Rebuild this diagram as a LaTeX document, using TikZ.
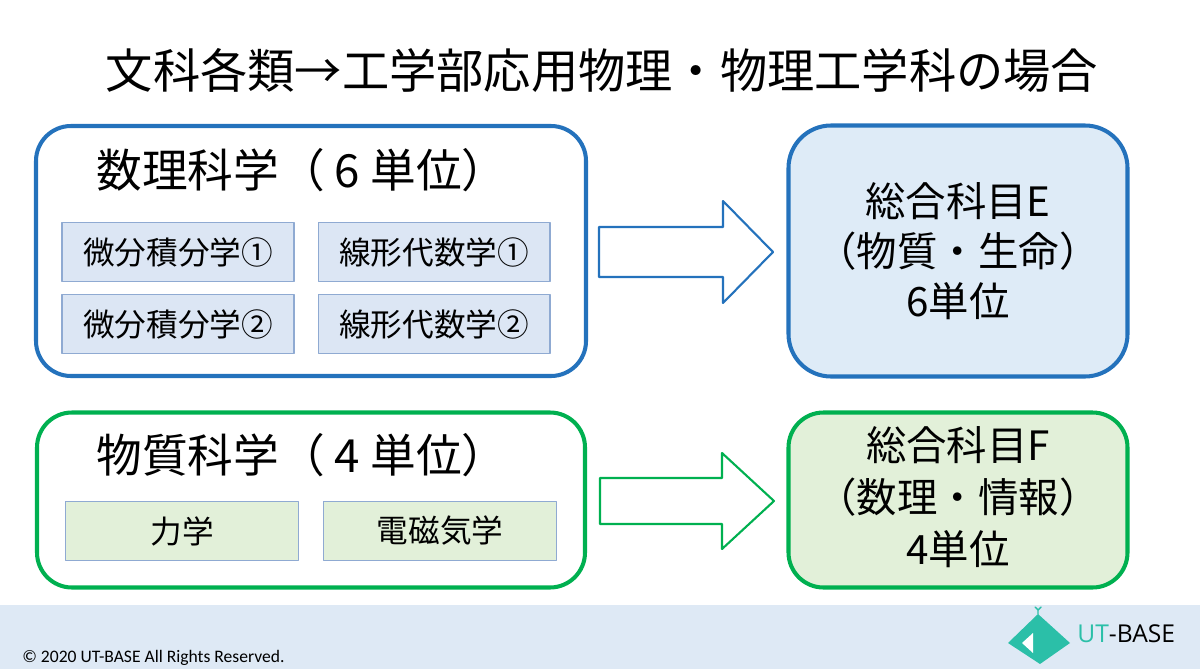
\documentclass[tikz,border=0pt]{standalone}
\usepackage{fontspec}
\setmainfont{Noto Sans CJK JP}
\newfontfamily\footfont{Carlito}
\newfontfamily\logofont{Open Sans}
\usetikzlibrary{positioning}
\definecolor{blueline}{RGB}{36,114,188}
\definecolor{bluefill}{RGB}{222,235,247}
\definecolor{bluecell}{RGB}{220,230,244}
\definecolor{cellline}{RGB}{143,170,210}
\definecolor{greenline}{RGB}{0,176,80}
\definecolor{greenfill}{RGB}{226,240,217}
\definecolor{footband}{RGB}{222,233,245}
\definecolor{logoteal}{RGB}{43,191,168}
\begin{document}
\begin{tikzpicture}[x=0.02cm,y=-0.02cm, line join=round, line cap=round,
	outerbox/.style={draw=#1, line width=2.3pt, rounded corners=0.7cm, inner sep=0pt},
	cell/.style={draw=cellline, line width=0.6pt, fill=#1, inner sep=0pt,
		minimum width=4.64cm, minimum height=1.18cm, font=\fontsize{18}{20}\selectfont},
	boxtitle/.style={anchor=west, inner sep=0pt, font=\fontsize{26}{30}\selectfont},
	credit/.style={align=center, inner sep=0pt, font=\fontsize{23}{28.4}\selectfont},
	blockarrow/.style={draw=#1, line width=1.2pt, fill=white}]
	\def\px{0.02cm}
	\useasboundingbox (0,0) rectangle (1200,669);
	
	% title
	\node[inner sep=0pt, font=\fontsize{26.9}{30}\selectfont] (title) at (602,70) {文科各類→工学部応用物理・物理工学科の場合};
	
	% 数理科学
	\node[outerbox=blueline, minimum width={550*\px}, minimum height={250*\px}] (math) at (311,251) {};
	\node[boxtitle] (mathT) at (96,170) {数理科学（ 6 単位）};
	\node[cell=bluecell] (calc1) at (178,252) {微分積分学①};
	\node[cell=bluecell] (lin1) at (434,252) {線形代数学①};
	\node[cell=bluecell] (calc2) at (178,324) {微分積分学②};
	\node[cell=bluecell] (lin2) at (434,324) {線形代数学②};
	\node[outerbox=blueline, fill=bluefill, rounded corners=0.85cm, minimum width={339*\px}, minimum height={251*\px}] (genE) at (958,251) {};
	\node[credit] (genET) at (genE) {総合科目E\\（物質・生命）\\6単位};
	
	% 物質科学
	\node[outerbox=greenline, minimum width={548*\px}, minimum height={175*\px}] (phys) at (311,500) {};
	\node[boxtitle] (physT) at (96,455) {物質科学（ 4 単位）};
	\node[cell=greenfill, minimum width={233*\px}] (mech) at (182,531) {力学};
	\node[cell=greenfill, minimum width={233*\px}] (em) at (440,531) {電磁気学};
	\node[outerbox=greenline, fill=greenfill, minimum width={339*\px}, minimum height={175*\px}] (genF) at (958,500) {};
	\node[credit, font=\fontsize{23}{29.5}\selectfont] (genFT) at (958,497) {総合科目F\\（数理・情報）\\4単位};
	
	% block arrows
	\coordinate (ba) at (599,252);
	\coordinate (ga) at (600,501);
	\draw[blockarrow=blueline] (ba) ++(0,-25) -- ++(124,0) -- ++(0,-26) -- ++(50,51) -- ++(-50,51) -- ++(0,-26) -- ++(-124,0) -- cycle;
	\draw[blockarrow=greenline] (ga) ++(0,-23) -- ++(122,0) -- ++(0,-25) -- ++(52,48) -- ++(-52,48) -- ++(0,-25) -- ++(-122,0) -- cycle;
	
	% footer
	\fill[footband] (0,605) rectangle (1200,669);
	\node[anchor=base west, inner sep=0pt, font=\footfont\fontsize{10}{12}\selectfont] (copy) at (22,662) {© 2020 UT-BASE All Rights Reserved.};
	\fill[logoteal] (1008,643) -- (1038,614) -- (1070,643) -- (1040,664) -- cycle;
	\fill[white] (1022,643) -- (1033,633) -- (1033,653) -- cycle;
	\draw[logoteal, line width=0.8pt] (1038,614) -- (1038,610) -- (1035,607) (1038,610) -- (1041,607);
	\node[anchor=base west, inner sep=0pt, font=\logofont\fontsize{14}{16}\selectfont] (logo) at (1077,642) {\textcolor{logoteal}{UT}-BASE};
\end{tikzpicture}
\end{document}
